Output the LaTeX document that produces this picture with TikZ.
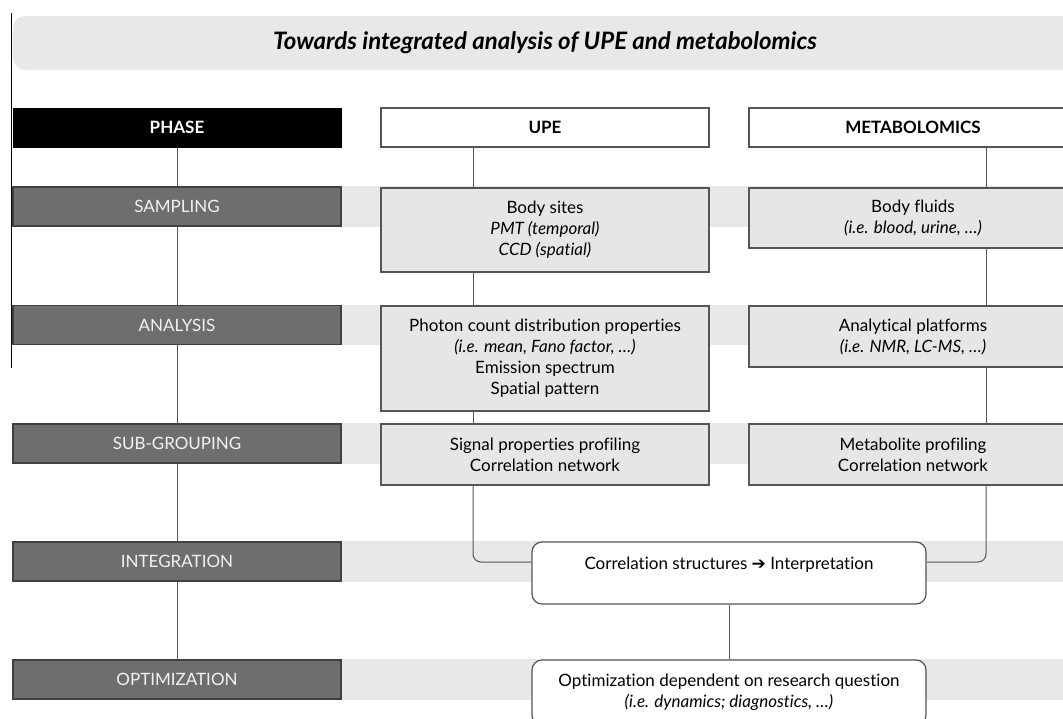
\documentclass[tikz,border=0pt]{standalone}
\usepackage{fontspec}
\setmainfont{Lato}[Ligatures=NoCommon]
\newfontfamily\arrowfont{DejaVu Sans}
\usetikzlibrary{calc}
\definecolor{bandgray}{HTML}{E8E8E8}
\definecolor{boxgray}{HTML}{E6E6E6}
\definecolor{phasegray}{HTML}{6E6E6E}
\definecolor{linegray}{HTML}{555555}
\newcommand\boxfont{\fontsize{17pt}{21pt}\selectfont}
\tikzset{
  phasehead/.style = {rectangle, fill=black, draw=black, text=white, font=\boxfont\bfseries, minimum width=328pt, minimum height=39pt},
  phasebox/.style = {rectangle, fill=phasegray, draw=black!75, line width=1.2pt, text=white!95!black, font=\boxfont, minimum width=328pt, minimum height=39pt},
  colhead/.style = {rectangle, fill=white, draw=linegray, line width=1.2pt, font=\boxfont\bfseries, minimum width=328pt, minimum height=39pt},
  infobox/.style = {rectangle, fill=boxgray, draw=linegray, line width=1.2pt, font=\boxfont, align=center, minimum width=328pt},
  roundbox/.style = {rectangle, rounded corners=10pt, fill=white, draw=linegray, line width=1.2pt, font=\boxfont, align=center, minimum width=394pt},
  link/.style = {draw=linegray, line width=1pt}
}

\begin{document}
\begin{tikzpicture}[x=1pt, y=-1pt]
\useasboundingbox (0,0) rectangle (1063,718);
\clip (0,0) rectangle (1063,718);
% TITLE
\node[rectangle, rounded corners=12pt, fill=bandgray, minimum width=1064pt, minimum height=54pt,
  font=\fontsize{24pt}{28pt}\selectfont\bfseries\itshape] (title) at (545,43)
  {Towards integrated analysis of UPE and metabolomics};
\coordinate (edgeT) at (11,13);
\coordinate (edgeB) at (11,368);
\draw[line width=1pt] (edgeT) -- (edgeB);
% PHASES
\node[phasehead] (phase) at (177,127.5) {PHASE};
\node[phasebox] (sampling) at (177,206.5) {SAMPLING};
\node[phasebox] (analysis) at (177,325) {ANALYSIS};
\node[phasebox] (subgrouping) at (177,443.5) {SUB-GROUPING};
\node[phasebox] (integration) at (177,561.5) {INTEGRATION};
\node[phasebox] (optimization) at (177,679.5) {OPTIMIZATION};
% BANDS
\coordinate (rightX) at (1070,0);
\foreach \p in {sampling, analysis, subgrouping, integration, optimization}
  \fill[bandgray] ([xshift=0.6pt]\p.north east) rectangle (\p.south -| rightX);
% UPE COLUMN
\node[colhead] (upe) at (545,127.5) {UPE};
\node[infobox, minimum height=84pt] (upeS) at (545,230)
  {Body sites\\ \textit{PMT (temporal)}\\ \textit{CCD (spatial)}};
\node[infobox, minimum height=105pt] (upeA) at (545,358.5)
  {Photon count distribution properties\\ \textit{(i.e. mean, Fano factor, …)}\\ Emission spectrum\\ Spatial pattern};
\node[infobox, minimum height=61pt] (upeG) at (545,454.5)
  {Signal properties profiling\\ Correlation network};
% METABOLOMICS COLUMN
\node[colhead] (met) at (913,127.5) {METABOLOMICS};
\node[infobox, minimum height=60pt] (metS) at (913,218)
  {Body fluids\\ \textit{(i.e. blood, urine, …)}};
\node[infobox, minimum height=61pt] (metA) at (913,336.5)
  {Analytical platforms\\ \textit{(i.e. NMR, LC-MS, …)}};
\node[infobox, minimum height=61pt] (metG) at (913,454.5)
  {Metabolite profiling\\ Correlation network};
% JOINT BOXES
\node[roundbox, inner sep=0pt, text height=27pt, text depth=35pt] (integ) at (729,573)
  {Correlation structures {\arrowfont\bfseries ➔} Interpretation};
\node[roundbox, minimum height=65pt] (optim) at (729,692.5)
  {Optimization dependent on research question\\ \textit{(i.e. dynamics; diagnostics, …)}};
% CONNECTORS
\coordinate (upeX) at (473,0);
\coordinate (metX) at (986,0);
\foreach \a/\b in {phase/sampling, sampling/analysis, analysis/subgrouping, subgrouping/integration, integration/optimization}
  \draw[link] (\a) -- (\b);
\foreach \a/\b in {upe/upeS, upeS/upeA, upeA/upeG}
  \draw[link] (\a.south -| upeX) -- (\b.north -| upeX);
\foreach \a/\b in {met/metS, metS/metA, metA/metG}
  \draw[link] (\a.south -| metX) -- (\b.north -| metX);
\draw[link, rounded corners=8pt] (upeG.south -| upeX) |- ([yshift=11pt]integ.west);
\draw[link, rounded corners=8pt] (metG.south -| metX) |- ([yshift=11pt]integ.east);
\draw[link] (integ) -- (optim);
\end{tikzpicture}
\end{document}
